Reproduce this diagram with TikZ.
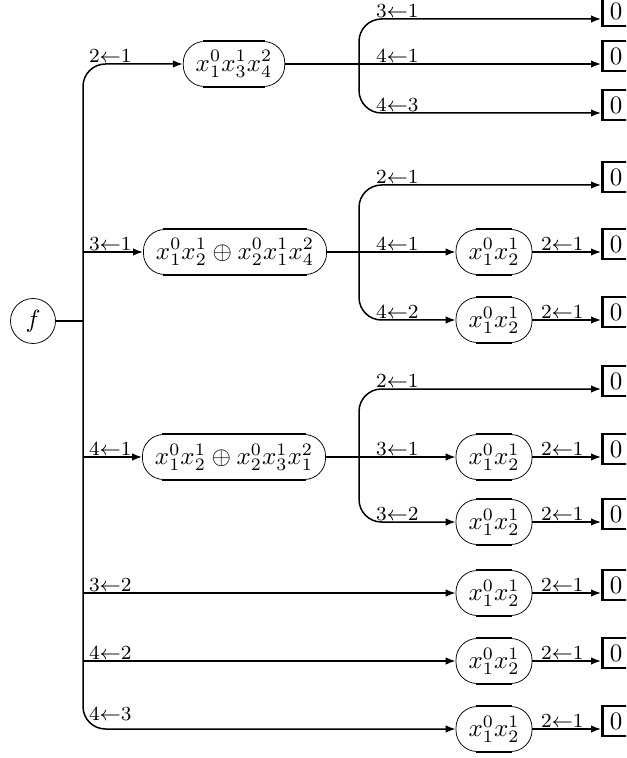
\documentclass[tikz,border=0pt]{standalone}
\usepackage{amsmath}
\usetikzlibrary{arrows.meta}

\begin{document}
\begin{tikzpicture}[x=0.4pt,y=-0.4pt,
        >={Latex[length=4pt,width=3pt]},
        wire/.style={line width=0.6pt},
        corner/.style={rounded corners=9pt},
        term/.style={draw, line width=0.3pt, rounded corners=8.5pt,
            minimum height=18pt, inner xsep=5pt},
        root/.style={draw, circle, line width=0.3pt, minimum size=18pt, inner sep=1pt},
        zero/.style={draw, line width=1pt, minimum height=12pt, minimum width=11pt,
            anchor=west, inner sep=1pt},
        lbl/.style={font=\footnotesize, anchor=south west, inner xsep=1pt, inner ysep=0.4pt}]

            \useasboundingbox (0,0) rectangle (626,758);
            \clip (0,0) rectangle (626,758);

            \node[root] (f) at (33,321) {$f$};
            \node[term] (A) at (234,64) {$x_1^0x_3^1x_4^2$};
            \node[term] (B) at (235,252) {$x_1^0x_2^1\oplus x_2^0x_1^1x_4^2$};
            \node[term] (C) at (234,457) {$x_1^0x_2^1\oplus x_2^0x_3^1x_1^2$};

            \foreach \n/\y in {B2/252, B3/320, C2/457, C3/522, D1/593, D2/661, D3/729}
                \node[term] (\n) at (494,\y) {$x_1^0x_2^1$};

            \foreach \n/\y in {zA1/19, zA2/64, zA3/113, zB1/185, zB2/252, zB3/320,
                    zC1/389, zC2/457, zC3/522, zD1/593, zD2/661, zD3/729}
                \node[zero] (\n) at (601,\y-8) {$0$};

            % thick straight edges of the terms
            \foreach \n in {A,B,C,B2,B3,C2,C3,D1,D2,D3}{
                \draw[line width=1pt] ([xshift=8pt]\n.north west) -- ([xshift=-8pt]\n.north east);
                \draw[line width=1pt] ([xshift=8pt]\n.south west) -- ([xshift=-8pt]\n.south east);
            }

            \coordinate (trunk) at (83,321);
            \coordinate (kA1) at (359,19);
            \coordinate (kA3) at (359,113);
            \coordinate (kB1) at (359,185);
            \coordinate (kB2) at (359,252);
            \coordinate (kB3) at (359,320);
            \coordinate (kC1) at (359,389);
            \coordinate (kC2) at (359,457);
            \coordinate (kC3) at (359,522);

            \draw[wire] (f) -- (trunk);
            \draw[wire,corner,<->] (A.west) -- (trunk |- A) -- (trunk |- D3) -- (D3.west);
            \foreach \n in {B,C,D1,D2}
                \draw[wire,->] (trunk |- \n) -- (\n.west);

            \draw[wire,->] (A.east) -- (zA2.west |- A.east);
            \draw[wire,corner,<->] (zA1.west |- kA1) -- (kA1) -- (kA3) -- (zA3.west |- kA3);

            \draw[wire] (B.east) -- (kB2);
            \draw[wire,corner,<->] (zB1.west |- kB1) -- (kB1) -- (kB3) -- (B3.west);
            \draw[wire,->] (kB2) -- (B2.west);

            \draw[wire] (C.east) -- (kC2);
            \draw[wire,corner,<->] (zC1.west |- kC1) -- (kC1) -- (kC3) -- (C3.west);
            \draw[wire,->] (kC2) -- (C2.west);

            \foreach \n/\z in {B2/zB2, B3/zB3, C2/zC2, C3/zC3, D1/zD1, D2/zD2, D3/zD3}
                \draw[wire,->] (\n.east) -- (\z.west |- \n.east);

            \foreach \i/\x/\y/\t in {1/86/64/2{\leftarrow}1, 2/86/252/3{\leftarrow}1,
                    3/86/457/4{\leftarrow}1, 4/86/593/3{\leftarrow}2, 5/86/661/4{\leftarrow}2,
                    6/86/722/4{\leftarrow}3,
                    7/373/19/3{\leftarrow}1, 8/373/64/4{\leftarrow}1, 9/373/113/4{\leftarrow}3,
                    10/373/185/2{\leftarrow}1, 11/373/252/4{\leftarrow}1, 12/373/320/4{\leftarrow}2,
                    13/373/389/2{\leftarrow}1, 14/373/457/3{\leftarrow}1, 15/373/522/3{\leftarrow}2,
                    16/538/252/2{\leftarrow}1, 17/538/320/2{\leftarrow}1, 18/538/457/2{\leftarrow}1,
                    19/538/522/2{\leftarrow}1, 20/538/593/2{\leftarrow}1, 21/538/661/2{\leftarrow}1,
                    22/538/729/2{\leftarrow}1}
                \node[lbl] (l\i) at (\x,\y) {$\t$};
\end{tikzpicture}
\end{document}
